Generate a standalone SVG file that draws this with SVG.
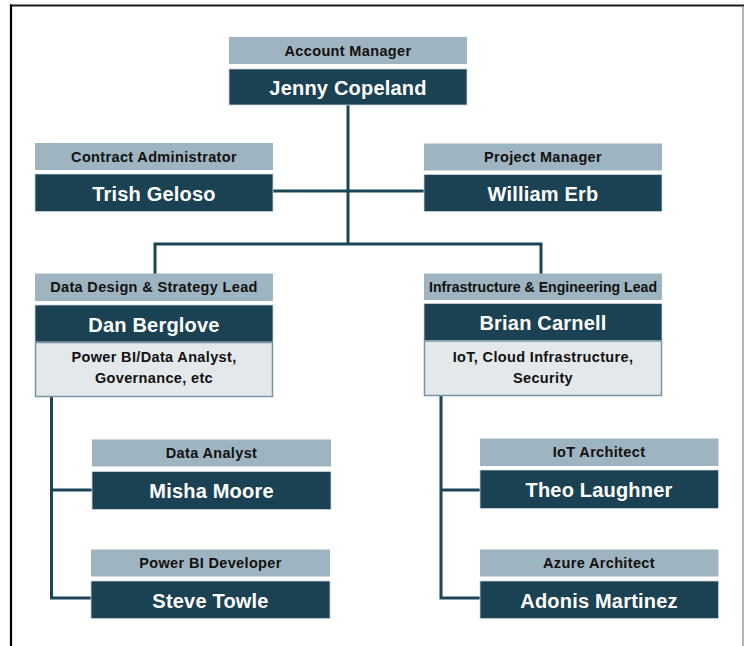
<svg xmlns="http://www.w3.org/2000/svg" width="744" height="646" viewBox="0 0 744 646">
  <style>
    .role { fill: #9eb4c0; }
    .name { fill: #1b4253; stroke: #c9d6dd; stroke-width: 0.8; }
    .desc { fill: #e3e8eb; stroke: #7a94a2; stroke-width: 1.5; }
    .t-role { font-family: "Liberation Sans", Arial, sans-serif; font-weight: bold; font-size: 14.5px; letter-spacing: 0.35px; fill: #111; text-anchor: middle; }
    .t-name { font-family: "Liberation Sans", Arial, sans-serif; font-weight: bold; font-size: 20px; letter-spacing: 0.2px; fill: #ffffff; text-anchor: middle; }
    .t-desc { font-family: "Liberation Sans", Arial, sans-serif; font-weight: bold; font-size: 14.5px; letter-spacing: 0.35px; fill: #111; text-anchor: middle; }
    .link { fill: none; stroke: #1c4556; stroke-width: 3; }
  </style>

  <rect x="0" y="0" width="744" height="646" fill="#ffffff"/>

  <!-- page frame -->
  <g id="frame">
    <line x1="10" y1="5.5" x2="744" y2="5.5" stroke="#1a1a1a" stroke-width="2.2"/>
    <line x1="11" y1="4.5" x2="11" y2="646" stroke="#000000" stroke-width="2.2"/>
    <line x1="743" y1="6" x2="743" y2="646" stroke="#9a9a9a" stroke-width="1.5"/>
  </g>

  <!-- connectors -->
  <g id="connectors">
    <line class="link" x1="348" y1="105" x2="348" y2="244"/>
    <line class="link" x1="273" y1="191" x2="424" y2="191"/>
    <polyline class="link" points="155,274 155,244 541,244 541,274"/>
    <polyline class="link" points="51.5,397 51.5,598 92,598"/>
    <line class="link" x1="51.5" y1="490" x2="92" y2="490"/>
    <polyline class="link" points="441,396 441,598 480,598"/>
    <line class="link" x1="441" y1="490" x2="480" y2="490"/>
  </g>

  <!-- Account Manager -->
  <g id="jenny-copeland">
    <rect class="role" x="229" y="37" width="238" height="27"/>
    <text class="t-role" x="348" y="55.5">Account Manager</text>
    <rect class="name" x="229" y="69" width="238" height="36"/>
    <text class="t-name" x="348" y="94.5">Jenny Copeland</text>
  </g>

  <!-- Contract Administrator -->
  <g id="trish-geloso">
    <rect class="role" x="35" y="143" width="238" height="27"/>
    <text class="t-role" x="154" y="161.5">Contract Administrator</text>
    <rect class="name" x="35" y="174" width="238" height="37.5"/>
    <text class="t-name" x="154" y="200.5">Trish Geloso</text>
  </g>

  <!-- Project Manager -->
  <g id="william-erb">
    <rect class="role" x="424" y="143.5" width="238" height="27"/>
    <text class="t-role" x="543" y="162">Project Manager</text>
    <rect class="name" x="424" y="174.5" width="238" height="37"/>
    <text class="t-name" x="543" y="200.5">William Erb</text>
  </g>

  <!-- Data Design & Strategy Lead -->
  <g id="dan-berglove">
    <rect class="role" x="35" y="273.5" width="238" height="27.5"/>
    <text class="t-role" x="154" y="292">Data Design &amp; Strategy Lead</text>
    <rect class="name" x="35" y="305" width="238" height="37"/>
    <text class="t-name" x="154" y="331.5">Dan Berglove</text>
    <rect class="desc" x="35.5" y="342.5" width="237" height="54"/>
    <text class="t-desc" x="154" y="361.5">Power BI/Data Analyst,</text>
    <text class="t-desc" x="154" y="382.5">Governance, etc</text>
  </g>

  <!-- Infrastructure & Engineering Lead -->
  <g id="brian-carnell">
    <rect class="role" x="424" y="273.5" width="238" height="26.5"/>
    <text class="t-role" x="543" y="291.5" textLength="228" lengthAdjust="spacingAndGlyphs" style="letter-spacing:0">Infrastructure &amp; Engineering Lead</text>
    <rect class="name" x="424" y="303.5" width="238" height="37"/>
    <text class="t-name" x="543" y="329.5">Brian Carnell</text>
    <rect class="desc" x="424.5" y="341" width="237" height="54.5"/>
    <text class="t-desc" x="543" y="361.5">IoT, Cloud Infrastructure,</text>
    <text class="t-desc" x="543" y="382.5">Security</text>
  </g>

  <!-- Data Analyst -->
  <g id="misha-moore">
    <rect class="role" x="92" y="439.5" width="239" height="27"/>
    <text class="t-role" x="211.5" y="458">Data Analyst</text>
    <rect class="name" x="92" y="471.5" width="239" height="38"/>
    <text class="t-name" x="211.5" y="498">Misha Moore</text>
  </g>

  <!-- Power BI Developer -->
  <g id="steve-towle">
    <rect class="role" x="91" y="549.5" width="239" height="27"/>
    <text class="t-role" x="210.5" y="568">Power BI Developer</text>
    <rect class="name" x="91" y="581" width="239" height="37.5"/>
    <text class="t-name" x="210.5" y="607.5">Steve Towle</text>
  </g>

  <!-- IoT Architect -->
  <g id="theo-laughner">
    <rect class="role" x="480" y="438.5" width="238.5" height="27.5"/>
    <text class="t-role" x="599" y="457">IoT Architect</text>
    <rect class="name" x="480" y="470" width="238.5" height="38.5"/>
    <text class="t-name" x="599" y="497">Theo Laughner</text>
  </g>

  <!-- Azure Architect -->
  <g id="adonis-martinez">
    <rect class="role" x="480" y="549.5" width="238.5" height="27"/>
    <text class="t-role" x="599" y="568">Azure Architect</text>
    <rect class="name" x="480" y="581" width="238.5" height="37.5"/>
    <text class="t-name" x="599" y="607.5">Adonis Martinez</text>
  </g>
</svg>
